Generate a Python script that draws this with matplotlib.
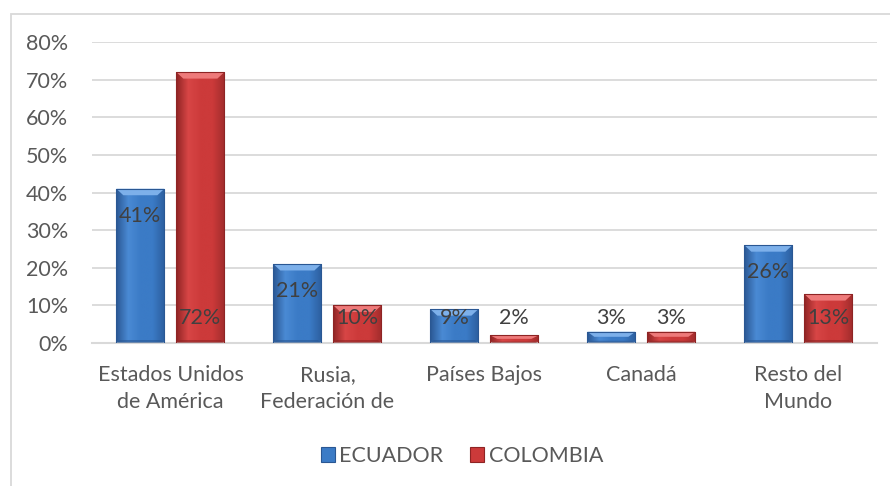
import matplotlib
matplotlib.use("Agg")
import matplotlib.pyplot as plt
import numpy as np
from matplotlib.patches import Rectangle, Polygon, Patch
from matplotlib.colors import LinearSegmentedColormap
from matplotlib.ticker import FuncFormatter, MultipleLocator

categories = ["Estados Unidos\nde América", "Rusia,\nFederación de", "Países Bajos", "Canadá", "Resto del\nMundo"]
ecuador = [41, 21, 9, 3, 26]
colombia = [72, 10, 2, 3, 13]
series_names = ["ECUADOR", "COLOMBIA"]

plt.rcParams['font.family'] = ['Lato', 'DejaVu Sans']
W, H = 890, 486
FS = 15.5
fig = plt.figure(figsize=(W / 100, H / 100), dpi=100)
fig.patch.set_facecolor("white")

# chart border
fig.patches.append(Rectangle((10.5 / W, -0.05), 1.2, 1 - 13.5 / H + 0.05, transform=fig.transFigure,
                             fill=False, edgecolor="#D9D9D9", linewidth=1.3))

ax = fig.add_axes([92 / W, 1 - 343 / H, (877 - 92) / W, (343 - 42) / H])
ax.set_xlim(-0.5, len(categories) - 0.5)
ax.set_ylim(0, 80)
ax.yaxis.set_major_locator(MultipleLocator(10))
ax.yaxis.set_major_formatter(FuncFormatter(lambda v, p: f"{v:.0f}%"))
ax.grid(axis="y", color="#D9D9D9", linewidth=1.3)
ax.set_axisbelow(True)
for s in ["top", "right", "left"]:
    ax.spines[s].set_visible(False)
ax.spines["bottom"].set_color("#D9D9D9")
ax.spines["bottom"].set_linewidth(1.5)
ax.tick_params(axis="both", length=0, labelsize=FS, labelcolor="#595959")
ax.tick_params(axis="y", pad=17)
ax.tick_params(axis="x", pad=16)
x = np.arange(len(categories))
ax.set_xticks(x)
ax.set_xticklabels(categories, linespacing=1.42)

palettes = {
    "ECUADOR": dict(dark="#2A5793", mid="#3B7BC6", light="#4A8AD4", top="#7DB0EA", side_r="#2C5E9E"),
    "COLOMBIA": dict(dark="#8E2424", mid="#CC3A3A", light="#D84646", top="#EE7A7A", side_r="#A02C2C"),
}

bw = 0.306
offs = [-0.192, 0.19]
px_x = 157.0  # pixels per x unit
px_y = 3.7625  # pixels per y unit

def style_bar(patch, pal):
    x0, y0 = patch.get_x(), patch.get_y()
    w, h = patch.get_width(), patch.get_height()
    cmap = LinearSegmentedColormap.from_list("g", [pal["dark"], pal["light"], pal["mid"], pal["mid"], pal["side_r"]],
                                             N=256)
    grad = np.linspace(0, 1, 128).reshape(1, -1)
    im = ax.imshow(grad, cmap=cmap, aspect="auto", extent=(x0, x0 + w, y0, y0 + h), zorder=2,
                   interpolation="bilinear")
    im.set_clip_path(patch)
    bh = min(6.5 / px_y, h * 0.45)
    bd = min(7 / px_x, w * 0.3)
    top = y0 + h
    ax.add_patch(Polygon([(x0, top), (x0 + w, top), (x0 + w - bd, top - bh), (x0 + bd, top - bh)],
                         closed=True, facecolor=pal["top"], edgecolor="none", zorder=3))
    bb = min(3 / px_y, h * 0.2)
    ax.add_patch(Polygon([(x0, y0), (x0 + w, y0), (x0 + w - bd * 0.5, y0 + bb), (x0 + bd * 0.5, y0 + bb)],
                         closed=True, facecolor=pal["dark"], alpha=0.6, edgecolor="none", zorder=3))
    ax.add_patch(Rectangle((x0, y0), w, h, fill=False, edgecolor=pal["dark"], linewidth=0.8, zorder=4))

for i, (name, vals) in enumerate(zip(series_names, [ecuador, colombia])):
    bars = ax.bar(x + offs[i], vals, width=bw, color=palettes[name]["mid"], zorder=2, linewidth=0)
    for b, v in zip(bars, vals):
        style_bar(b, palettes[name])
        if i == 0 and v >= 15:
            ly = v - 27 / px_y
        else:
            ly = 25 / px_y
        ax.text(b.get_x() + b.get_width() / 2, ly, f"{v}%", ha="center", va="center",
                fontsize=FS, color="#404040", zorder=5)

handles = [Patch(facecolor=palettes[n]["mid"], edgecolor=palettes[n]["dark"], linewidth=0.8) for n in series_names]
fig.legend(handles, series_names, loc="center", bbox_to_anchor=(462 / W, 1 - 456 / H), ncol=2, frameon=False,
           fontsize=FS, labelcolor="#595959", handlelength=0.65, handleheight=0.65, handletextpad=0.2,
           columnspacing=1.25)

fig.savefig("out.png", dpi=100, facecolor="white")
